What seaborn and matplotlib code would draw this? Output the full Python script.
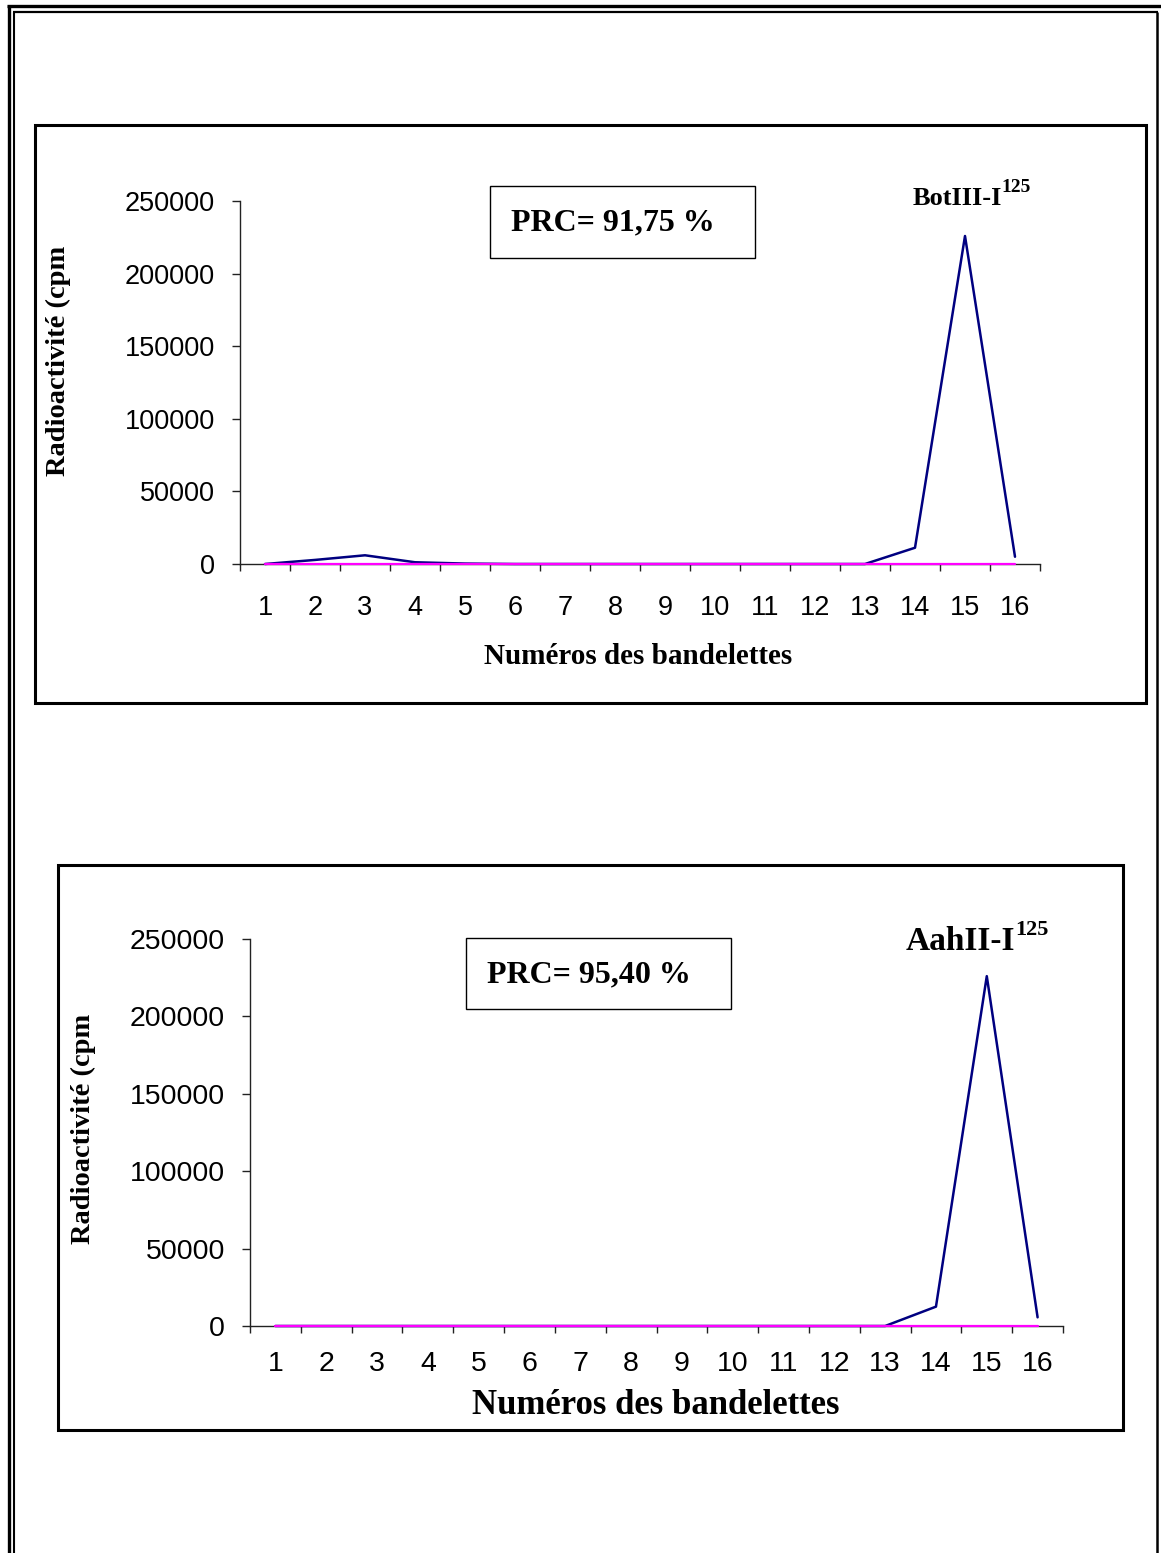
import numpy as np
import matplotlib
matplotlib.use("Agg")
import matplotlib.pyplot as plt
import seaborn as sns
from matplotlib.patches import Rectangle
from matplotlib.lines import Line2D

sns.set_style("white")
plt.rcParams['font.family'] = ['Liberation Sans', 'DejaVu Sans']
plt.rcParams['text.color'] = 'black'
plt.rcParams['xtick.color'] = 'black'
plt.rcParams['ytick.color'] = 'black'

# numéros des bandelettes
bands = [1, 2, 3, 4, 5, 6, 7, 8, 9, 10, 11, 12, 13, 14, 15, 16]

# BotIII-I125 (cpm)
bot_total = [0, 2800, 6000, 1200, 300, 0, 0, 0, 0, 0, 0, 0, 0, 11200, 225900, 5000]
bot_libre = [0, 0, 0, 0, 0, 0, 0, 0, 0, 0, 0, 0, 0, 0, 0, 0]

# AahII-I125 (cpm)
aah_total = [0, 0, 0, 0, 0, 0, 0, 0, 0, 0, 0, 0, 0, 12500, 226000, 5600]
aah_libre = [0, 0, 0, 0, 0, 0, 0, 0, 0, 0, 0, 0, 0, 0, 0, 0]

y_ticks = [0, 50000, 100000, 150000, 200000, 250000]

W, H = 1161, 1553
SERIF = ['Liberation Serif', 'DejaVu Serif']

fig = plt.figure(figsize=(W / 100, H / 100), dpi=100)


def fx(x):
    return x / W


def fy(y):
    return 1 - y / H


def fig_line(x0, y0, x1, y1, lw):
    fig.add_artist(Line2D([fx(x0), fx(x1)], [fy(y0), fy(y1)], transform=fig.transFigure,
                          color='black', lw=lw, solid_capstyle='butt'))


def fig_box(x0, y0, x1, y1, lw):
    fig.add_artist(Rectangle((fx(x0), fy(y1)), fx(x1) - fx(x0), fy(y0) - fy(y1),
                             transform=fig.transFigure, fill=False, ec='black', lw=lw))


# cadre de la page
fig_line(8.5, 5, 8.5, H, 2.4)
fig_line(13.5, 12, 13.5, H, 1.5)
fig_line(7, 5.5, W, 5.5, 2.4)
fig_line(13, 12, 1157.5, 12, 1.6)
fig_line(1157, 12, 1157, H, 1.8)


def draw_panel(rect, total, libre, box, tick_pad_x, tick_size, title, sup, title_xy, title_size,
               sup_size, sup_dy, prc, prc_box, prc_x, xlabel, xlabel_xy, xlabel_size, ylabel_xy):
    x0, y0, x1, y1 = rect
    ax = fig.add_axes([fx(x0), fy(y1), fx(x1) - fx(x0), fy(y0) - fy(y1)])
    sns.lineplot(x=bands, y=total, ax=ax, color='#000080', linewidth=1.8, zorder=3,
                 clip_on=False)
    sns.lineplot(x=bands, y=libre, ax=ax, color='#FF00FF', linewidth=1.6, zorder=4,
                 clip_on=False)
    ax.set_xlim(0.5, 16.5)
    ax.set_ylim(0, 250000)
    ax.set_xticks(bands, [str(b) for b in bands])
    ax.set_xticks(np.arange(0.5, 17, 1), minor=True)
    ax.set_yticks(y_ticks, [str(v) for v in y_ticks])
    ax.tick_params(axis='x', which='major', length=0, pad=tick_pad_x, labelsize=tick_size)
    ax.tick_params(axis='x', which='minor', length=5, width=1, direction='out', color='#222222')
    ax.tick_params(axis='y', length=6, width=1, direction='out', pad=12, labelsize=tick_size,
                   color='#222222')
    ax.tick_params(bottom=True, left=True, which='both')
    for s in ['top', 'right']:
        ax.spines[s].set_visible(False)
    for s in ['left', 'bottom']:
        ax.spines[s].set_color('#222222')
        ax.spines[s].set_linewidth(1)
        ax.spines[s].set_zorder(2)
    ax.set_xlabel('')
    ax.set_ylabel('')

    # cadre du graphique
    fig_box(*box, 2.2)

    # PRC
    bx0, by0, bx1, by1 = prc_box
    fig_box(bx0, by0, bx1, by1, 1.0)
    fig.text(fx(prc_x), fy((by0 + by1) / 2 + 1), prc, family=SERIF, weight='bold',
             size=23, ha='left', va='center')

    # nom de la toxine
    t = fig.text(fx(title_xy[0]), fy(title_xy[1]), title, family=SERIF, weight='bold',
                 size=title_size, ha='left', va='baseline')
    fig.add_artist(matplotlib.text.Annotation(sup, xy=(1, 1), xycoords=t, xytext=(-0.5, sup_dy),
                                              textcoords='offset points', family=SERIF,
                                              weight='bold', size=sup_size, ha='left',
                                              va='center'))

    fig.text(fx(xlabel_xy[0]), fy(xlabel_xy[1]), xlabel, family=SERIF, weight='bold',
             size=xlabel_size, ha='center', va='center')

    # le libellé est coupé dans l'original
    fig.text(fx(ylabel_xy[0]), fy(ylabel_xy[1]), 'Radioactivité (cpm', family=SERIF,
             weight='bold', size=20.5, rotation=90, ha='center', va='bottom')
    return ax


draw_panel(rect=(240, 201, 1040, 564), total=bot_total, libre=bot_libre,
           box=(35, 125, 1146, 703), tick_pad_x=22, tick_size=19.5,
           title='BotIII-I', sup='125', title_xy=(913, 205), title_size=19, sup_size=14,
           sup_dy=-0.5, prc='PRC= 91,75 %', prc_box=(490, 186, 755, 258), prc_x=511,
           xlabel='Numéros des bandelettes', xlabel_xy=(638, 657), xlabel_size=21,
           ylabel_xy=(58, 476))

draw_panel(rect=(250, 939, 1063, 1326), total=aah_total, libre=aah_libre,
           box=(58, 865, 1123, 1430), tick_pad_x=18, tick_size=20.5,
           title='AahII-I', sup='125', title_xy=(906, 950), title_size=24, sup_size=16,
           sup_dy=-3, prc='PRC= 95,40 %', prc_box=(466, 938, 731, 1009), prc_x=487,
           xlabel='Numéros des bandelettes', xlabel_xy=(656, 1405), xlabel_size=25,
           ylabel_xy=(83, 1244))

fig.savefig("out.png", dpi=100)
